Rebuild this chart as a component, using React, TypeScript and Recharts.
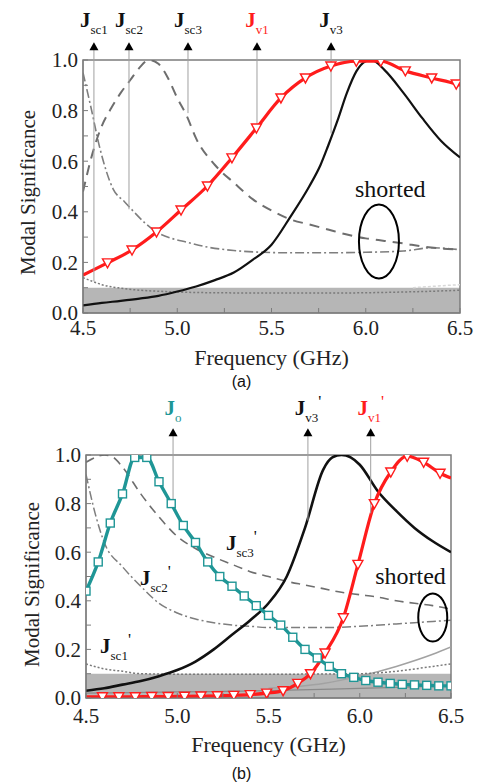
import React from "react";
import { ComposedChart, Line, XAxis, YAxis, ReferenceArea, ReferenceLine, ReferenceDot } from "recharts";

// ---------- panel (a) ----------
const fA_v1 = [4.5, 4.63, 4.76, 4.89, 5.02, 5.16, 5.29, 5.42, 5.55, 5.68, 5.815, 5.95, 6.08, 6.21, 6.35, 6.48, 6.5];
const msA_v1 = [0.15, 0.198, 0.249, 0.32, 0.407, 0.502, 0.613, 0.731, 0.85, 0.929, 0.976, 0.995, 0.995, 0.957, 0.929, 0.905, 0.9];

const fA_v3 = [4.5, 4.6, 4.7, 4.8, 4.9, 5.0, 5.1, 5.2, 5.3, 5.4, 5.5, 5.6, 5.7, 5.76, 5.8, 5.85, 5.9, 5.95, 6.0, 6.03, 6.1, 6.2, 6.3, 6.4, 6.5];
const msA_v3 = [0.03, 0.04, 0.048, 0.057, 0.068, 0.085, 0.105, 0.13, 0.16, 0.21, 0.27, 0.38, 0.5, 0.585, 0.66, 0.76, 0.87, 0.955, 0.995, 1.0, 0.96, 0.87, 0.77, 0.68, 0.615];

const fA_sc3 = [4.5, 4.55, 4.6, 4.65, 4.7, 4.75, 4.8, 4.85, 4.9, 4.95, 5.0, 5.05, 5.1, 5.2, 5.3, 5.4, 5.5, 5.6, 5.7, 5.8, 5.9, 6.0, 6.1, 6.2, 6.3, 6.4, 6.5];
const msA_sc3 = [0.48, 0.63, 0.74, 0.81, 0.87, 0.92, 0.97, 1.0, 0.985, 0.93, 0.85, 0.78, 0.69, 0.585, 0.515, 0.45, 0.405, 0.37, 0.35, 0.33, 0.31, 0.295, 0.285, 0.275, 0.263, 0.255, 0.25];

const fA_sc2 = [4.5, 4.54, 4.59, 4.66, 4.72, 4.77, 4.83, 4.89, 4.97, 5.05, 5.15, 5.3, 5.45, 5.6, 5.8, 6.0, 6.2, 6.35, 6.5];
const msA_sc2 = [0.95, 0.82, 0.65, 0.49, 0.44, 0.4, 0.355, 0.32, 0.295, 0.28, 0.262, 0.247, 0.24, 0.238, 0.238, 0.24, 0.245, 0.258, 0.25];

const fA_sc1 = [4.5, 4.55, 4.6, 4.7, 4.8, 4.9, 5.0, 5.2, 5.5, 5.8, 6.0, 6.2, 6.35, 6.5];
const msA_sc1 = [0.14, 0.125, 0.112, 0.098, 0.09, 0.086, 0.083, 0.08, 0.079, 0.079, 0.08, 0.083, 0.086, 0.09];

const fA_faint = [6.25, 6.35, 6.45, 6.5];
const msA_faint = [0.1, 0.105, 0.11, 0.112];

const ptrA_name = ["sc1", "sc2", "sc3", "v1", "v3"];
const ptrA_f = [4.558, 4.744, 5.057, 5.423, 5.816];
const ptrA_end = [0.125, 0.41, 0.79, 0.735, 0.71];

// ---------- panel (b) ----------
const fB_o = [4.5, 4.567, 4.633, 4.7, 4.767, 4.833, 4.9, 4.967, 5.033, 5.1, 5.167, 5.233, 5.3, 5.367, 5.433, 5.5, 5.567, 5.633, 5.7, 5.767, 5.833, 5.9, 5.967, 6.033, 6.1, 6.167, 6.233, 6.3, 6.367, 6.433, 6.5];
const msB_o = [0.44, 0.56, 0.72, 0.84, 0.99, 0.99, 0.89, 0.8, 0.71, 0.64, 0.56, 0.5, 0.46, 0.42, 0.38, 0.34, 0.3, 0.25, 0.2, 0.165, 0.13, 0.1, 0.085, 0.072, 0.065, 0.06, 0.056, 0.054, 0.052, 0.05, 0.05];

const fB_v3 = [4.5, 4.6, 4.7, 4.8, 4.9, 5.0, 5.1, 5.2, 5.3, 5.4, 5.5, 5.6, 5.7, 5.8, 5.85, 5.9, 5.95, 6.0, 6.1, 6.2, 6.3, 6.4, 6.5];
const msB_v3 = [0.03, 0.04, 0.055, 0.07, 0.09, 0.115, 0.15, 0.2, 0.26, 0.32, 0.39, 0.5, 0.7, 0.94, 0.99, 1.0, 0.99, 0.96, 0.85, 0.77, 0.7, 0.645, 0.6];

const fB_v1 = [4.5, 4.59, 4.68, 4.77, 4.86, 4.95, 5.04, 5.13, 5.22, 5.31, 5.4, 5.49, 5.58, 5.66, 5.73, 5.81, 5.91, 5.99, 6.08, 6.17, 6.26, 6.35, 6.44, 6.5];
const msB_v1 = [0.005, 0.005, 0.005, 0.005, 0.006, 0.006, 0.007, 0.008, 0.009, 0.011, 0.014, 0.02, 0.03, 0.06, 0.1, 0.185, 0.33, 0.55, 0.8, 0.93, 0.995, 0.97, 0.925, 0.905];

const fB_sc3 = [4.5, 4.55, 4.6, 4.65, 4.7, 4.8, 4.9, 5.0, 5.1, 5.2, 5.3, 5.4, 5.5, 5.6, 5.7, 5.8, 5.9, 6.0, 6.1, 6.2, 6.3, 6.4, 6.5];
const msB_sc3 = [0.97, 0.99, 1.0, 0.99, 0.95, 0.84, 0.745, 0.665, 0.615, 0.58, 0.55, 0.52, 0.5, 0.48, 0.465, 0.45, 0.435, 0.425, 0.415, 0.4, 0.39, 0.38, 0.365];

const fB_sc2 = [4.5, 4.55, 4.6, 4.7, 4.8, 4.9, 5.0, 5.1, 5.2, 5.3, 5.4, 5.5, 5.6, 5.8, 6.0, 6.2, 6.4, 6.5];
const msB_sc2 = [0.92, 0.76, 0.64, 0.54, 0.46, 0.39, 0.35, 0.325, 0.31, 0.3, 0.295, 0.29, 0.29, 0.29, 0.295, 0.305, 0.315, 0.32];

const fB_sc1 = [4.5, 4.6, 4.7, 4.8, 5.0, 5.5, 6.0, 6.2, 6.4, 6.5];
const msB_sc1 = [0.14, 0.12, 0.11, 0.1, 0.098, 0.098, 0.1, 0.11, 0.13, 0.14];

const fB_rise = [5.5, 5.8, 6.0, 6.2, 6.4, 6.5];
const msB_rise = [0.04, 0.06, 0.09, 0.13, 0.18, 0.21];

const fB_low = [4.5, 5.0, 5.5, 6.0, 6.5];
const msB_low = [0.02, 0.025, 0.03, 0.04, 0.05];

const ptrB_name = ["o", "v3", "v1"];
const ptrB_f = [4.977, 5.716, 6.06];
const ptrB_end = [0.79, 0.73, 0.76];

const inlineB_name = ["sc3", "sc2", "sc1"];
const inlineB_f = [5.267, 4.796, 4.577];
const inlineB_ms = [0.61, 0.465, 0.185];

const xTicks = [4.5, 4.75, 5.0, 5.25, 5.5, 5.75, 6.0, 6.25, 6.5];
const yTicks = [0, 0.1, 0.2, 0.3, 0.4, 0.5, 0.6, 0.7, 0.8, 0.9, 1.0];

const SERIF = "Liberation Serif, Times New Roman, serif";
const RED = "#ff1c1c";
const TEAL = "#1f9696";
const FRAME = "#7c7c7c";

const pts = (f: number[], v: number[]) => f.map((x, i) => ({ f: x, v: v[i] }));

const xFmt = (v: number) => (Math.abs(v * 2 - Math.round(v * 2)) < 1e-6 ? v.toFixed(1) : "");
const yFmt = (v: number) => (Math.round(v * 10) % 2 === 0 ? v.toFixed(1) : "");

const tickStyle = { fontSize: 21, fontFamily: SERIF, fill: "#222" };

function triDot(props: any) {
  const { cx, cy, index, payload } = props;
  if (payload.f <= 4.5 || payload.f >= 6.5 || cx == null) return <g key={index} />;
  return (
    <path
      key={index}
      d={`M${cx - 5},${cy - 4}L${cx + 5},${cy - 4}L${cx},${cy + 5}Z`}
      fill="#fff"
      stroke={RED}
      strokeWidth={1.4}
    />
  );
}

function sqDot(props: any) {
  const { cx, cy, index } = props;
  if (cx == null) return <g key={index} />;
  return <rect key={index} x={cx - 4} y={cy - 4} width={8} height={8} fill="#fff" stroke={TEAL} strokeWidth={1.4} />;
}

function jText(x: number, y: number, sub: string, color: string, prime: boolean, anchor: string) {
  return (
    <text x={x} y={y} style={{ fontFamily: SERIF }} fontSize={21} fontWeight="bold" fill={color} textAnchor={anchor as any}>
      J
      <tspan fontSize={13} fontWeight="normal" dy={7}>
        {sub}
      </tspan>
      {prime ? (
        <tspan fontSize={17} fontWeight="normal" dy={-15}>
          '
        </tspan>
      ) : null}
    </text>
  );
}

function pointers(names: string[], fs: number[], ends: number[], arrowY: number, gap: number, prime: boolean) {
  const colorOf = (n: string) => (n === "v1" ? RED : n === "o" ? TEAL : "#111");
  return names.flatMap((n, i) => [
    <ReferenceLine
      key={"l" + n}
      segment={[
        { x: fs[i], y: ends[i] },
        { x: fs[i], y: arrowY },
      ]}
      stroke="#a0a0a0"
      strokeWidth={1}
      ifOverflow="visible"
    />,
    <ReferenceDot
      key={"d" + n}
      x={fs[i]}
      y={arrowY}
      ifOverflow="visible"
      shape={(p: any) => (
        <g>
          <path d={`M${p.cx},${p.cy - 5}L${p.cx - 4.5},${p.cy + 3}L${p.cx + 4.5},${p.cy + 3}Z`} fill="#000" />
          {jText(p.cx, p.cy - gap, n, colorOf(n), prime && n !== "o", "middle")}
        </g>
      )}
    />,
  ]);
}

function ellipseShape(rx: number, ry: number) {
  return (p: any) => <ellipse cx={p.cx} cy={p.cy} rx={rx} ry={ry} fill="none" stroke="#000" strokeWidth={2} />;
}

function shortedShape(p: any) {
  return (
    <text x={p.cx} y={p.cy} textAnchor="middle" style={{ fontFamily: SERIF }} fontSize={24} fill="#111">
      shorted
    </text>
  );
}

function yTitle(cx: number, cy: number) {
  return (
    <text
      x={cx}
      y={cy}
      transform={`rotate(-90, ${cx}, ${cy})`}
      textAnchor="middle"
      dominantBaseline="central"
      style={{ fontFamily: SERIF }}
      fontSize={21}
      fill="#222"
    >
      Modal Significance
    </text>
  );
}

function xTitle(cx: number, cy: number) {
  return (
    <text x={cx} y={cy} textAnchor="middle" dominantBaseline="central" style={{ fontFamily: SERIF }} fontSize={22} fill="#222">
      Frequency (GHz)
    </text>
  );
}

const grayLine = { dot: false, isAnimationActive: false, type: "monotone" as const, dataKey: "v" };

function PanelA() {
  return (
    <ComposedChart width={479} height={392} margin={{ top: 60, right: 19, left: 0, bottom: 0 }}>
      <XAxis
        type="number"
        dataKey="f"
        domain={[4.5, 6.5]}
        ticks={xTicks}
        interval={0}
        tickFormatter={xFmt}
        height={79}
        tickSize={-5}
        tickMargin={12}
        tick={tickStyle}
        stroke={FRAME}
        allowDataOverflow
        label={(p: any) => xTitle(p.viewBox.x + p.viewBox.width / 2, p.viewBox.y + 44)}
      />
      <YAxis
        type="number"
        domain={[0, 1]}
        ticks={yTicks}
        interval={0}
        tickFormatter={yFmt}
        width={83}
        tickSize={-5}
        tickMargin={10}
        tick={tickStyle}
        stroke={FRAME}
        allowDataOverflow
        label={(p: any) => yTitle(28, p.viewBox.y + p.viewBox.height / 2 + 6)}
      />
      <ReferenceArea x1={4.5} x2={6.5} y1={0} y2={0.1} fill="#b6b6b6" fillOpacity={1} stroke="none" />
      <Line {...grayLine} data={pts(fA_faint, msA_faint)} stroke="#d8d8d8" strokeWidth={1.5} strokeDasharray="3 2" />
      <Line {...grayLine} data={pts(fA_sc1, msA_sc1)} stroke="#7a7a7a" strokeWidth={1.5} strokeDasharray="2 2" />
      <Line {...grayLine} data={pts(fA_sc2, msA_sc2)} stroke="#7e7e7e" strokeWidth={1.6} strokeDasharray="9 3 2 3" />
      <Line {...grayLine} data={pts(fA_sc3, msA_sc3)} stroke="#6e6e6e" strokeWidth={2} strokeDasharray="10 7" />
      <Line {...grayLine} data={pts(fA_v3, msA_v3)} stroke="#111" strokeWidth={2.2} />
      <Line
        type="monotone"
        dataKey="v"
        data={pts(fA_v1, msA_v1)}
        stroke={RED}
        strokeWidth={3.2}
        dot={triDot}
        isAnimationActive={false}
      />
      {pointers(ptrA_name, ptrA_f, ptrA_end, 1.05, 20, false)}
      <ReferenceDot x={6.07} y={0.283} ifOverflow="visible" shape={ellipseShape(20, 37)} />
      <ReferenceDot x={6.13} y={0.46} ifOverflow="visible" shape={shortedShape} />
      <ReferenceArea x1={4.5} x2={6.5} y1={0} y2={1} fill="none" stroke={FRAME} strokeWidth={1.5} />
    </ComposedChart>
  );
}

function PanelB() {
  return (
    <ComposedChart width={479} height={392} margin={{ top: 63, right: 28, left: 0, bottom: 0 }}>
      <XAxis
        type="number"
        dataKey="f"
        domain={[4.5, 6.5]}
        ticks={xTicks}
        interval={0}
        tickFormatter={xFmt}
        height={86}
        tickSize={-5}
        tickMargin={15}
        tick={tickStyle}
        stroke={FRAME}
        allowDataOverflow
        label={(p: any) => xTitle(p.viewBox.x + p.viewBox.width / 2, p.viewBox.y + 46)}
      />
      <YAxis
        type="number"
        domain={[0, 1]}
        ticks={yTicks}
        interval={0}
        tickFormatter={yFmt}
        width={86}
        tickSize={-5}
        tickMargin={10}
        tick={tickStyle}
        stroke={FRAME}
        allowDataOverflow
        label={(p: any) => yTitle(32, p.viewBox.y + p.viewBox.height / 2 + 8)}
      />
      <ReferenceArea x1={4.5} x2={6.5} y1={0} y2={0.1} fill="#b6b6b6" fillOpacity={1} stroke="none" />
      <Line {...grayLine} data={pts(fB_low, msB_low)} stroke="#8a8a8a" strokeWidth={1.2} />
      <Line {...grayLine} data={pts(fB_rise, msB_rise)} stroke="#a2a2a2" strokeWidth={1.5} />
      <Line {...grayLine} data={pts(fB_sc1, msB_sc1)} stroke="#7a7a7a" strokeWidth={1.5} strokeDasharray="2 2" />
      <Line {...grayLine} data={pts(fB_sc2, msB_sc2)} stroke="#7e7e7e" strokeWidth={1.5} strokeDasharray="9 3 2 3" />
      <Line {...grayLine} data={pts(fB_sc3, msB_sc3)} stroke="#6e6e6e" strokeWidth={1.6} strokeDasharray="9 6" />
      <Line {...grayLine} data={pts(fB_v3, msB_v3)} stroke="#111" strokeWidth={2.6} />
      <Line
        type="monotone"
        dataKey="v"
        data={pts(fB_v1, msB_v1)}
        stroke={RED}
        strokeWidth={3.2}
        dot={triDot}
        isAnimationActive={false}
      />
      <Line
        type="monotone"
        dataKey="v"
        data={pts(fB_o, msB_o)}
        stroke={TEAL}
        strokeWidth={3.4}
        dot={sqDot}
        isAnimationActive={false}
      />
      {pointers(ptrB_name, ptrB_f, ptrB_end, 1.09, 18, true)}
      {inlineB_name.map((n, i) => (
        <ReferenceDot
          key={"t" + n}
          x={inlineB_f[i]}
          y={inlineB_ms[i]}
          ifOverflow="visible"
          shape={(p: any) => jText(p.cx, p.cy, n, "#111", true, "start")}
        />
      ))}
      <ReferenceDot x={6.4} y={0.331} ifOverflow="visible" shape={ellipseShape(14.5, 24)} />
      <ReferenceDot x={6.278} y={0.47} ifOverflow="visible" shape={shortedShape} />
      <ReferenceArea x1={4.5} x2={6.5} y1={0} y2={1} fill="none" stroke={FRAME} strokeWidth={1.5} />
    </ComposedChart>
  );
}

export default function App() {
  const caption: React.CSSProperties = {
    position: "absolute",
    left: 2,
    width: 479,
    textAlign: "center",
    fontFamily: "Liberation Sans, Arial, sans-serif",
    fontSize: 16,
    lineHeight: "18px",
    color: "#111",
  };
  return (
    <div style={{ position: "absolute", left: 0, top: 0, width: 479, height: 784, background: "#fff" }}>
      <div style={{ position: "absolute", left: 0, top: 0 }}>
        <PanelA />
      </div>
      <div style={{ ...caption, top: 373 }}>(a)</div>
      <div style={{ position: "absolute", left: 0, top: 392 }}>
        <PanelB />
      </div>
      <div style={{ ...caption, top: 765 }}>(b)</div>
    </div>
  );
}
